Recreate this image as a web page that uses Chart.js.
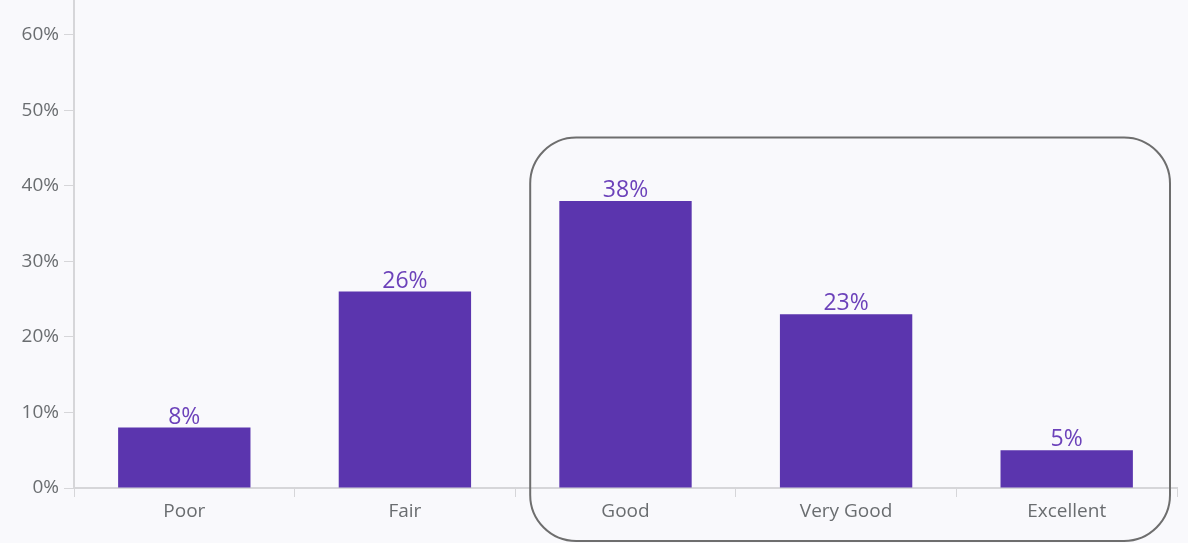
<!DOCTYPE html>
<html>
<head>
<meta charset="utf-8">
<script src="https://cdn.jsdelivr.net/npm/chart.js@4.4.1/dist/chart.umd.min.js"></script>
<style>
  html, body { margin: 0; padding: 0; background: #f9f9fc; }
  #wrap { width: 1188px; height: 543px; position: relative; }
</style>
</head>
<body>
<div id="wrap"><canvas id="ratings"></canvas></div>
<script>
const categories = ['Poor', 'Fair', 'Good', 'Very Good', 'Excellent'];
const shares = [8, 26, 38, 23, 5];
const yTicks = [0, 10, 20, 30, 40, 50, 60];
// categories inside the rounded highlight frame
const highlightFrom = 2;
const highlightTo = 4;

const FONT = '"Open Sans", "Noto Sans", sans-serif';

// value labels above each bar
const barLabels = {
  id: 'barLabels',
  afterDatasetsDraw(chart) {
    const ctx = chart.ctx;
    const meta = chart.getDatasetMeta(0);
    ctx.save();
    ctx.font = '23px ' + FONT;
    ctx.fillStyle = '#6c42ba';
    ctx.textAlign = 'center';
    ctx.textBaseline = 'alphabetic';
    meta.data.forEach((bar, i) => {
      ctx.fillText(shares[i] + '%', bar.x, bar.y - 4);
    });
    ctx.restore();
  }
};

// rounded frame around the upper ratings
const highlightBox = {
  id: 'highlightBox',
  afterDraw(chart) {
    const x = chart.scales.x;
    const y = chart.scales.y;
    const half = (x.getPixelForValue(1) - x.getPixelForValue(0)) / 2;
    const left = x.getPixelForValue(highlightFrom) - half + 15;
    const right = x.getPixelForValue(highlightTo) + half - 7;
    const top = y.getPixelForValue(46.4);
    const bottom = chart.height - 2;
    const ctx = chart.ctx;
    ctx.save();
    ctx.strokeStyle = '#6e6e6e';
    ctx.lineWidth = 2;
    ctx.beginPath();
    ctx.roundRect(left, top, right - left, bottom - top, 46);
    ctx.stroke();
    ctx.restore();
  }
};

new Chart(document.getElementById('ratings'), {
  type: 'bar',
  data: {
    labels: categories,
    datasets: [{
      data: shares,
      backgroundColor: '#5b35ae',
      borderWidth: 0,
      barPercentage: 0.6,
      categoryPercentage: 1
    }]
  },
  options: {
    responsive: true,
    maintainAspectRatio: false,
    animation: false,
    layout: { padding: { left: 0, right: 11, top: 0, bottom: 0 } },
    plugins: {
      legend: { display: false },
      tooltip: { enabled: false }
    },
    scales: {
      x: {
        offset: true,
        grid: {
          offset: true,
          drawOnChartArea: false,
          drawTicks: true,
          tickLength: 9,
          color: '#d6d6d9'
        },
        border: { color: '#d6d6d9', width: 2 },
        ticks: {
          color: '#6a6d70',
          font: { family: FONT, size: 19 },
          padding: 3
        },
        afterFit(scale) {
          scale.height = 55;
          scale.paddingLeft = 0;
          scale.paddingRight = 0;
        }
      },
      y: {
        min: 0,
        max: 64.6,
        afterBuildTicks(scale) {
          scale.ticks = yTicks.map(v => ({ value: v }));
        },
        grid: {
          drawOnChartArea: false,
          drawTicks: true,
          tickLength: 10,
          color: '#d6d6d9'
        },
        border: { color: '#d6d6d9', width: 2 },
        ticks: {
          color: '#6a6d70',
          font: { family: FONT, size: 19 },
          padding: 5,
          callback: v => v + '%'
        },
        afterFit(scale) {
          scale.width = 74;
          // let the axis run to the very top of the canvas
          scale.paddingTop = 0;
          scale.paddingBottom = 0;
        }
      }
    }
  },
  plugins: [barLabels, highlightBox]
});
</script>
</body>
</html>
